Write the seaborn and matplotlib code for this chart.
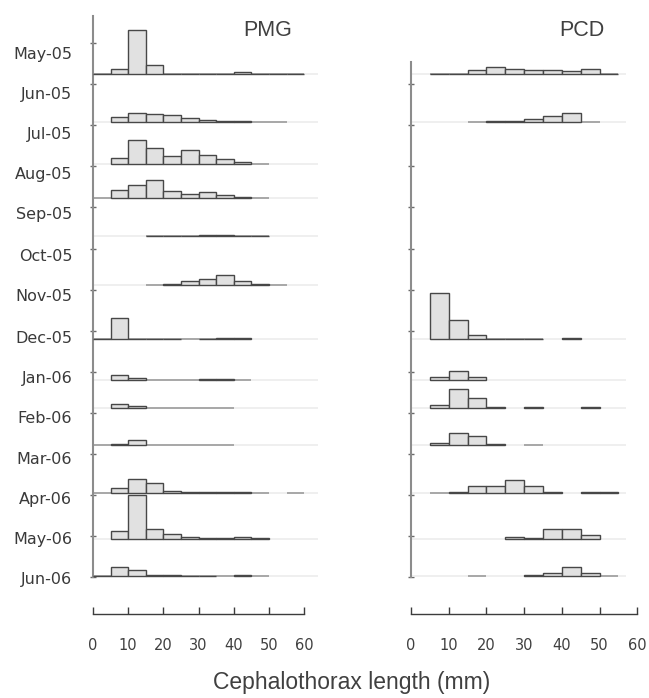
import numpy as np
import seaborn as sns
import matplotlib.pyplot as plt

nan = np.nan

# monthly samples (rows) and size classes (5 mm bins, 0-60 mm)
months = ['May-05', 'Jun-05', 'Jul-05', 'Aug-05', 'Sep-05', 'Oct-05', 'Nov-05',
          'Dec-05', 'Jan-06', 'Feb-06', 'Mar-06', 'Apr-06', 'May-06', 'Jun-06']
bin_left = np.arange(0, 60, 5)
x_ticks = [0, 10, 20, 30, 40, 50, 60]

# relative frequency (%) per size class; nan = class not present in the sample
pmg_freq = [
    [0.5, 6, 55, 11, 0.5, 0.5, 0.5, 0.5, 2, 0.5, 0.5, 0.5],
    [nan, 6.5, 11, 9.5, 9, 5, 3, 1, 1, 0, 0, nan],
    [nan, 7.5, 30, 19.5, 10.5, 17.5, 11.5, 6, 3, 0, nan, nan],
    [0, 9.5, 16.5, 22, 8.5, 5.5, 7.5, 4, 1, 0, nan, nan],
    [nan, nan, nan, 0.5, 0.5, 0.5, 1.2, 1.2, 0.5, 0.5, nan, nan],
    [nan, nan, nan, 0, 1, 5.5, 7.5, 12, 4.5, 1, 0, nan],
    [0.5, 26, 0.5, 0.5, 0.5, 0, 0.5, 1.2, 1.2, nan, nan, nan],
    [nan, 6, 2, 0, 0, 0, 1.5, 1.5, 0, nan, nan, nan],
    [nan, 5, 3, 0, 0, 0, 0, 0, nan, nan, nan, nan],
    [0, 1.5, 6, 0, 0, 0, 0, 0, nan, nan, nan, nan],
    [0, 6, 17, 12.5, 3, 1, 1, 1, 1, 0, nan, 0],
    [nan, 9.5, 55.5, 13, 6, 2.5, 1.2, 1.2, 2.5, 1, nan, nan],
    [0.5, 11, 7.5, 1.5, 1.2, 0.5, 0.5, 0, 1, 0, nan, nan],
]
empty = [nan] * 12
pcd_freq = [
    [nan, 0.5, 0.5, 5.5, 8.5, 6.5, 4.5, 4.5, 3.5, 6.5, 0.5, nan],
    [nan, nan, nan, 0, 1, 1, 4, 7.5, 11.5, 0, nan, nan],
    empty, empty, empty, empty,
    [nan, 58, 24, 5, 0.5, 0.5, 0.5, nan, 1.2, nan, nan, nan],
    [nan, 4, 11.5, 4, nan, nan, nan, nan, nan, nan, nan, nan],
    [nan, 4, 23.5, 12, 1.2, nan, 1.2, nan, nan, 1.2, nan, nan],
    [nan, 2, 14.5, 11.5, 1.2, nan, 0, nan, nan, nan, nan, nan],
    [nan, 0, 1.2, 8.5, 8.5, 16.5, 9, 1, nan, 1.2, 1, nan],
    [nan, nan, nan, nan, nan, 2.5, 1.2, 12.5, 12.5, 5.5, nan, nan],
    [nan, nan, nan, 0, nan, nan, 1, 4, 11.5, 4, 0, nan],
]

# layout (figure pixels)
W, H = 649, 698
baselines = [74, 122, 164, 198, 236, 285, 339, 380, 408, 445, 493, 539, 576]
label_y = [53, 93, 133, 173, 213, 255, 295, 337, 377, 417, 458, 498, 538, 578]
mark_y = [43 + 41.1 * k for k in range(14)]
px_per_pct = 0.8

sns.set_theme(style='white')
plt.rcParams['font.family'] = 'DejaVu Sans'

fig = plt.figure(figsize=(W / 100, H / 100), dpi=100)


def make_axes(x0, px_mm, xmax, bottom):
    ax = fig.add_axes([x0 / W, 1 - bottom / H, xmax * px_mm / W, bottom / H])
    ax.set_xlim(0, xmax)
    ax.set_ylim(bottom, 0)
    return ax


def draw_panel(ax, freq, grid_end, spine_top, with_labels):
    for b, vals in zip(baselines, freq):
        vals = np.array(vals, dtype=float)
        present = ~np.isnan(vals)
        if not present.any():
            continue
        ax.hlines(b, 0, grid_end, color='#ececec', lw=1.2, zorder=1)
        ax.hlines([b] * present.sum(), bin_left[present], bin_left[present] + 5,
                  color='#a8a8a8', lw=1.4, zorder=2)
        pos = present & (np.nan_to_num(vals) > 0)
        ax.bar(bin_left[pos], -vals[pos] * px_per_pct, bottom=b, width=5, align='edge',
               color='#e1e1e1', edgecolor='#474747', linewidth=1.0, zorder=3)

    for s in ['top', 'right']:
        ax.spines[s].set_visible(False)
    ax.spines['left'].set_bounds(spine_top, 577)
    ax.spines['left'].set_color('#8c8c8c')
    ax.spines['left'].set_linewidth(1.5)
    ax.spines['bottom'].set_bounds(0, 60)
    ax.spines['bottom'].set_color('#3c3c3c')
    ax.spines['bottom'].set_linewidth(1.0)

    ax.set_xticks(x_ticks)
    ax.tick_params(axis='x', direction='in', length=5, width=1, color='#3c3c3c',
                   labelsize=10.5, labelcolor='#404040', pad=17, bottom=True)
    ax.set_yticks([m for m in mark_y if m > spine_top], minor=True)
    ax.tick_params(axis='y', which='minor', direction='inout', length=5, width=1,
                   color='#6a6a6a', left=True)
    if with_labels:
        ax.set_yticks(label_y)
        ax.set_yticklabels(months)
        ax.tick_params(axis='y', which='major', length=0, pad=15,
                       labelsize=11.5, labelcolor='#3a3a3a')
    else:
        ax.set_yticks([])
    ax.grid(False)


ax1 = make_axes(93, 3.52, 64.5, 614)
draw_panel(ax1, pmg_freq, 64, 16, True)

ax2 = make_axes(411, 3.77, 63, 614)
draw_panel(ax2, pcd_freq, 57, 62, False)

fig.text(268 / W, 1 - 30 / H, 'PMG', ha='center', va='center', fontsize=15.5,
         family='Liberation Sans', color='#404040')
fig.text(582 / W, 1 - 30 / H, 'PCD', ha='center', va='center', fontsize=15.5,
         family='Liberation Sans', color='#404040')
fig.text(352 / W, 1 - 682 / H, 'Cephalothorax length (mm)', ha='center', va='center',
         fontsize=16.5, family='Liberation Sans', color='#404040')

fig.savefig('out.png', dpi=100)
